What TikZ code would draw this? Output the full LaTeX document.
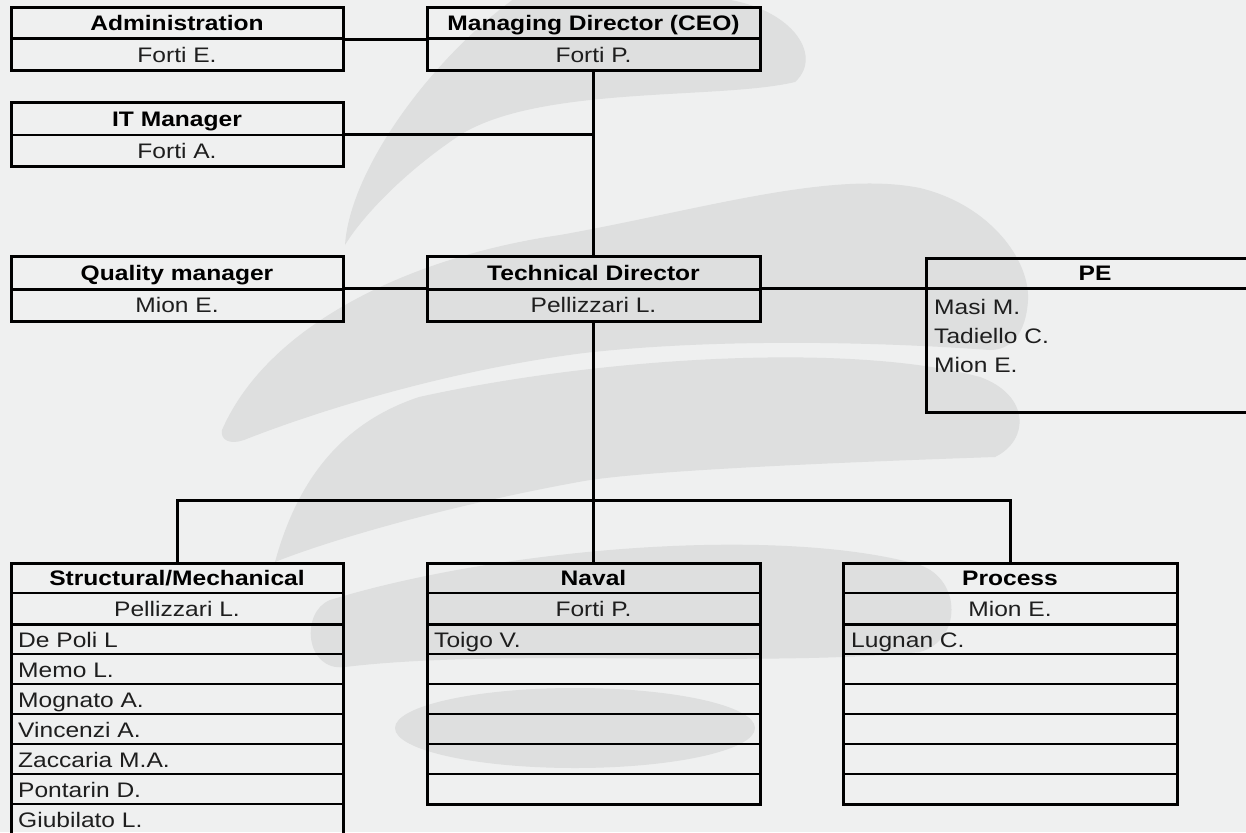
\documentclass[tikz,border=0pt]{standalone}
\usepackage{fontspec}
\setmainfont[FakeStretch=1.17]{Liberation Sans}
\definecolor{bgc}{RGB}{239,240,240}
\definecolor{swc}{RGB}{222,223,223}
\definecolor{txt}{RGB}{30,30,30}
\begin{document}
\begin{tikzpicture}[x=1pt,y=-1pt,
  box/.style={draw=black, line width=3pt, inner sep=0pt, outer sep=0pt},
  thinline/.style={line width=2pt},
  heavyline/.style={line width=3pt},
  conn/.style={line width=3pt},
  hdr/.style={font=\bfseries\fontsize{21}{25}\selectfont, anchor=base, inner sep=0pt, text=black},
  nm/.style={font=\fontsize{21}{25}\selectfont, anchor=base, inner sep=0pt, text=txt},
  mem/.style={nm, anchor=base west}]
\useasboundingbox (0,0) rectangle (1246,832);
\clip (0,0) rectangle (1246,832);
\fill[bgc] (0,0) rectangle (1246,832);
% watermark swooshes
\fill[swc] (515,-2) -- (716,-2) .. controls (790,5) and (825,55) .. (795,82)
  .. controls (720,100) and (540,85) .. (460,135)
  .. controls (400,175) and (360,220) .. (345,245)
  .. controls (350,170) and (430,60) .. (515,-2) -- cycle;
\fill[swc] (222,430) .. controls (270,320) and (420,255) .. (560,235)
  .. controls (700,210) and (830,170) .. (920,188)
  .. controls (990,205) and (1030,260) .. (1028,300)
  .. controls (1026,335) and (1010,350) .. (990,350)
  .. controls (850,340) and (700,340) .. (584,353)
  .. controls (450,370) and (320,410) .. (244,440)
  .. controls (230,445) and (220,440) .. (222,430) -- cycle;
\fill[swc] (275,562) .. controls (300,470) and (350,420) .. (419,397)
  .. controls (600,357) and (850,342) .. (980,377)
  .. controls (1030,395) and (1030,440) .. (995,457)
  .. controls (850,462) and (650,470) .. (584,481)
  .. controls (450,505) and (330,540) .. (275,562) -- cycle;
\fill[swc] (330,600) .. controls (500,548) and (780,525) .. (920,565)
  .. controls (962,580) and (962,640) .. (920,652)
  .. controls (760,668) and (500,648) .. (345,667)
  .. controls (305,672) and (300,612) .. (330,600) -- cycle;
\fill[swc] (575,728) ellipse [x radius=180, y radius=40];

% boxes
\node[box, minimum width=332, minimum height=63] (admin) at (177,39.5) {};
\node[box, minimum width=332, minimum height=63] (itm) at (177,134.5) {};
\node[box, minimum width=333, minimum height=63] (ceo) at (593.5,39.5) {};
\node[box, minimum width=332, minimum height=65] (qm) at (177,288.5) {};
\node[box, minimum width=333, minimum height=65] (td) at (593.5,288.5) {};
\node[box, minimum width=338, minimum height=154] (pe) at (1095,335) {};
\node[box, minimum width=332, minimum height=272] (sm) at (177,699) {};
\node[box, minimum width=333, minimum height=241] (nv) at (593.5,683.5) {};
\node[box, minimum width=334, minimum height=241] (pr) at (1010,683.5) {};
\coordinate (bus) at (593.5,500);

% connectors
\draw[conn] (admin) -- (ceo);
\draw[conn] (itm.east) -- (itm.east -| ceo.south);
\draw[conn] (ceo.south) -- (td.north);
\draw[conn] (qm) -- (td);
\draw[conn] (td.east) -- (td.east -| pe.west);
\draw[conn] (td.south) -- (nv.north);
\draw[conn] (sm.north) -- (sm.north |- bus) -- (pr.north |- bus) -- (pr.north);

% dividers
\draw[heavyline] (admin.west |- 0,39) -- (admin.east |- 0,39);
\draw[heavyline] (ceo.west |- 0,39) -- (ceo.east |- 0,39);
\draw[thinline] (itm.west |- 0,135) -- (itm.east |- 0,135);
\draw[heavyline] (qm.west |- 0,289) -- (qm.east |- 0,289);
\draw[heavyline] (td.west |- 0,289) -- (td.east |- 0,289);
\draw[heavyline] (pe.west |- 0,288) -- (pe.east |- 0,288);
\foreach \b in {sm,nv,pr}{
  \draw[thinline] (\b.west |- 0,593) -- (\b.east |- 0,593);
  \draw[heavyline] (\b.west |- 0,624) -- (\b.east |- 0,624);
}
\foreach \yy in {654,684,714,744,774}{
  \draw[thinline] (sm.west |- 0,\yy) -- (sm.east |- 0,\yy);
  \draw[thinline] (nv.west |- 0,\yy) -- (nv.east |- 0,\yy);
  \draw[thinline] (pr.west |- 0,\yy) -- (pr.east |- 0,\yy);
}
\draw[thinline] (sm.west |- 0,804) -- (sm.east |- 0,804);

% texts
\node[hdr] (t-admin) at (177,31) {Administration};
\node[nm] (n-admin) at (177,62.5) {Forti E.};
\node[hdr] (t-ceo) at (593.5,31) {Managing Director (CEO)};
\node[nm] (n-ceo) at (593.5,62.5) {Forti P.};
\node[hdr] (t-itm) at (177,126.5) {IT Manager};
\node[nm] (n-itm) at (177,158) {Forti A.};
\node[hdr] (t-qm) at (177,280) {Quality manager};
\node[nm] (n-qm) at (177,312.5) {Mion E.};
\node[hdr] (t-td) at (593.5,280) {Technical Director};
\node[nm] (n-td) at (593.5,312.5) {Pellizzari L.};
\node[hdr] (t-pe) at (1095,280.5) {PE};
\node[mem] (pe1) at (934,314) {Masi M.};
\node[mem] (pe2) at (934,343) {Tadiello C.};
\node[mem] (pe3) at (934,372) {Mion E.};

\node[hdr] (t-sm) at (177,585.5) {Structural/Mechanical};
\node[nm] (n-sm) at (177,616) {Pellizzari L.};
\node[hdr] (t-nv) at (593.5,585.5) {Naval};
\node[nm] (n-nv) at (593.5,616) {Forti P.};
\node[hdr] (t-pr) at (1010,585.5) {Process};
\node[nm] (n-pr) at (1010,616) {Mion E.};

\node[mem] (sm1) at (18,647.5) {De Poli L};
\node[mem] (sm2) at (18,677.5) {Memo L.};
\node[mem] (sm3) at (18,707.5) {Mognato A.};
\node[mem] (sm4) at (18,737.5) {Vincenzi A.};
\node[mem] (sm5) at (18,767.5) {Zaccaria M.A.};
\node[mem] (sm6) at (18,797.5) {Pontarin D.};
\node[mem] (sm7) at (18,827.5) {Giubilato L.};
\node[mem] (nv1) at (434,647.5) {Toigo V.};
\node[mem] (pr1) at (851,647.5) {Lugnan C.};
\end{tikzpicture}
\end{document}
